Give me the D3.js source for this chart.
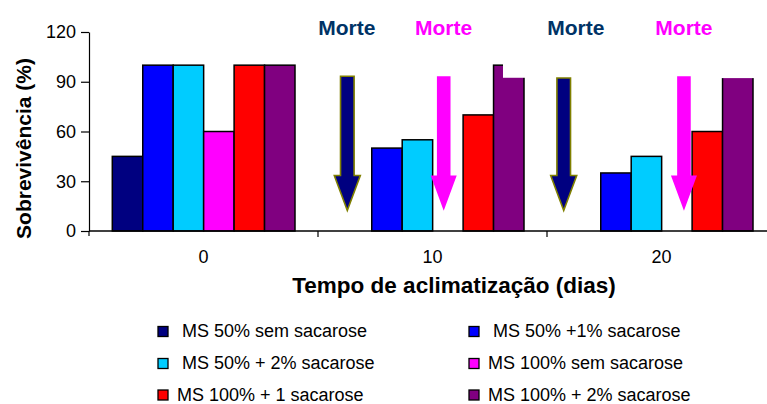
<!DOCTYPE html>
<html><head><meta charset="utf-8">
<script src="https://cdn.jsdelivr.net/npm/d3@7"></script>
<style>
body{margin:0;background:#fff}
svg{display:block}
text{font-family:"Liberation Sans",Arial,Helvetica,sans-serif}
</style>
</head><body>
<svg id="c" width="767" height="404"></svg>
<script>
// ---- data ----
const categories = ["0", "10", "20"];
const seriesNames = [" MS 50% sem sacarose", " MS 50% +1% sacarose", " MS 50% + 2% sacarose",
                     "MS 100% sem sacarose", "MS 100% + 1 sacarose", "MS 100% + 2% sacarose"];
const seriesColors = ["#000080", "#0000FF", "#00CCFF", "#FF00FF", "#FF0000", "#800080"];
const ms50Sem   = [45, null, null];
const ms50Mais1 = [100, 50, 35];
const ms50Mais2 = [100, 55, 45];
const ms100Sem  = [60, null, null];
const ms100Mais1 = [100, 70, 60];
const ms100Mais2 = [100, 100, 100];
const yTicks = [0, 30, 60, 90, 120];
const yTitle = "Sobrevivência (%)";
const xTitle = "Tempo de aclimatização (dias)";
// "Morte" arrows (cat, position inside category band 0..1, top / neck / tip values)
const arrowCats = ["10", "10", "20", "20"];
const arrowPos = [0.128, 0.549, 0.073, 0.598];
const arrowSeries = [0, 3, 0, 3];
const arrowTop = [93.3, 93.3, 92.3, 93.3];
const arrowNeck = [33.5, 33.5, 33.5, 33.5];
const arrowTip = [12.4, 12.2, 12.4, 12.2];
const labelPos = [0.126, 0.548, 0.126, 0.598];
const labelText = "Morte";
const labelColors = ["#003366", "#FF00FF", "#003366", "#FF00FF"];
// white cover over the purple bar tops (series 5), in bar-width fractions / values
const coverCats = ["10", "20"];
const coverFrom = [0.31, -0.1];
const coverTo = [1.2, 1.2];
const coverBottom = [92.4, 92.2];

const series = [ms50Sem, ms50Mais1, ms50Mais2, ms100Sem, ms100Mais1, ms100Mais2];

// ---- layout ----
const svg = d3.select("#c");
const x0 = 89, yBottom = 231, yTop = 32;
const band = 229;
const x = d3.scaleBand().domain(categories).range([x0, x0 + band * 3]).padding(0);
const xs = d3.scaleBand().domain(d3.range(6)).range([23.3, 206]).padding(0);
const y = d3.scaleLinear().domain([0, 120]).range([yBottom, yTop]);
const FONT = "Liberation Sans, Arial, sans-serif";

// bars
categories.forEach((c, ci) => {
  series.forEach((vals, si) => {
    const v = vals[ci];
    if (v == null) return;
    svg.append("rect")
      .attr("x", x(c) + xs(si))
      .attr("y", y(v))
      .attr("width", xs.bandwidth())
      .attr("height", y(0) - y(v))
      .attr("fill", seriesColors[si])
      .attr("stroke", "#000")
      .attr("stroke-width", 1.5);
  });
});
// covers
coverCats.forEach((c, i) => {
  const bx = x(c) + xs(5), bw = xs.bandwidth();
  svg.append("rect")
    .attr("x", bx + bw * coverFrom[i])
    .attr("y", y(104))
    .attr("width", bw * (coverTo[i] - coverFrom[i]))
    .attr("height", y(coverBottom[i]) - y(104))
    .attr("fill", "#fff");
});

// y axis
const yAxis = d3.axisLeft(y).tickValues(yTicks).tickSize(8).tickSizeOuter(0).tickPadding(5);
const gy = svg.append("g").attr("transform", `translate(${x0},0)`).call(yAxis);
gy.select(".domain").attr("stroke", "#000").attr("stroke-width", 1.2);
gy.selectAll(".tick line").attr("stroke", "#000").attr("stroke-width", 1.2);
gy.selectAll(".tick text").attr("font-size", 18).attr("font-family", FONT).attr("fill", "#000");

// x axis line and boundary ticks
svg.append("line").attr("x1", x0).attr("x2", 767).attr("y1", y(0)).attr("y2", y(0))
  .attr("stroke", "#000").attr("stroke-width", 1.5);
svg.append("line").attr("x1", x0).attr("x2", x0).attr("y1", y(0)).attr("y2", y(0) + 5)
  .attr("stroke", "#000").attr("stroke-width", 1.2);
categories.forEach(c => {
  svg.append("line").attr("x1", x(c) + band).attr("x2", x(c) + band)
    .attr("y1", y(0)).attr("y2", y(0) + 6).attr("stroke", "#000").attr("stroke-width", 1.2);
  svg.append("text").attr("x", x(c) + x.bandwidth() / 2).attr("y", 263)
    .attr("text-anchor", "middle").attr("font-size", 18).attr("font-family", FONT).text(c);
});

// arrows
arrowCats.forEach((c, i) => {
  const cx = x(c) + band * arrowPos[i];
  const sw = 6.8, hw = 13;
  const t = y(arrowTop[i]), n = y(arrowNeck[i]), p = y(arrowTip[i]);
  const path = `M${cx - sw},${t} L${cx + sw},${t} L${cx + sw},${n} L${cx + hw},${n} L${cx},${p} L${cx - hw},${n} L${cx - sw},${n} Z`;
  const navy = arrowSeries[i] === 0;
  svg.append("path").attr("d", path)
    .attr("fill", seriesColors[arrowSeries[i]])
    .attr("stroke", navy ? "#808000" : "none")
    .attr("stroke-width", navy ? 1.6 : 0);
  svg.append("text").attr("x", x(c) + band * labelPos[i]).attr("y", y(118))
    .attr("text-anchor", "middle").attr("font-size", 21).attr("font-weight", "bold")
    .attr("font-family", FONT).attr("fill", labelColors[i]).text(labelText);
});

// titles
svg.append("text").attr("transform", "translate(31,148.5) rotate(-90)")
  .attr("text-anchor", "middle").attr("font-size", 21).attr("font-weight", "bold")
  .attr("font-family", FONT).text(yTitle);
svg.append("text").attr("x", 454).attr("y", 293)
  .attr("text-anchor", "middle").attr("font-size", 22.5).attr("font-weight", "bold")
  .attr("font-family", FONT).text(xTitle);

// legend
const legX = [158, 469], legBase = [337, 369, 400.5];
seriesNames.forEach((name, i) => {
  const col = i % 2, row = Math.floor(i / 2);
  const g = svg.append("g");
  g.append("rect").attr("x", legX[col]).attr("y", legBase[row] - 10.5)
    .attr("width", 10).attr("height", 10)
    .attr("fill", seriesColors[i]).attr("stroke", "#000").attr("stroke-width", 1.3);
  g.append("text").attr("x", legX[col] + 19).attr("y", legBase[row])
    .attr("font-size", 18).attr("font-family", FONT).style("white-space", "pre")
    .attr("xml:space", "preserve").text(name);
});
</script>
</body></html>
